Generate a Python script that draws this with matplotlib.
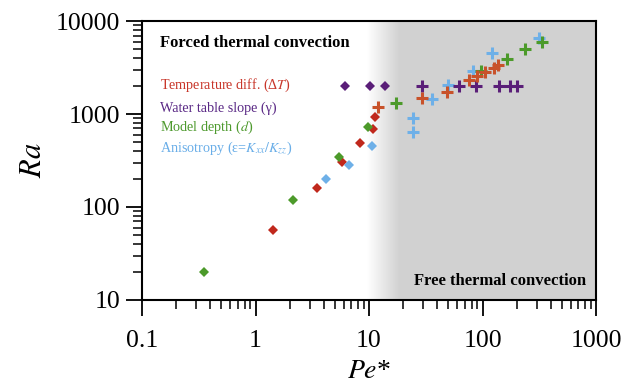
import numpy as np
import matplotlib.pyplot as plt

# Temperature difference (dT)
temp_pe_d = [1.42, 3.48, 5.82, 8.33, 10.8, 11.2]
temp_ra_d = [57, 161, 307, 491, 695, 935]
temp_pe_c = [12.1, 29.1, 48.7, 76, 90, 105, 127, 138]
temp_ra_c = [1190, 1475, 1738, 2321, 2563, 2808, 3100, 3365]

# Water table slope (gamma)
slope_pe_d = [6.2, 10.1, 13.9]
slope_ra_d = [2000, 2000, 2000]
slope_pe_c = [29.1, 61.7, 87.1, 139, 175, 203]
slope_ra_c = [2000, 2000, 2000, 2000, 2000, 2000]

# Model depth (d)
depth_pe_d = [0.35, 2.13, 5.41, 9.73]
depth_ra_d = [20, 119, 347, 729]
depth_pe_c = [17.2, 96.4, 163, 237, 332]
depth_ra_c = [1303, 2923, 3903, 4960, 5900]

# Anisotropy
aniso_pe_d = [4.18, 6.7, 10.6]
aniso_ra_d = [199, 283, 449]
aniso_pe_c = [24.3, 24.3, 36.1, 50, 82, 121, 316]
aniso_ra_c = [899, 645, 1439, 2050, 2923, 4563, 6515]

red_d, red_c = '#c0281c', '#c8522a'
purple = '#5a1e78'
green = '#4c9a2a'
blue = '#6eb0e8'

plt.rcParams['font.family'] = ['Liberation Serif', 'DejaVu Serif']
plt.rcParams['mathtext.fontset'] = 'stix'

fig = plt.figure(figsize=(6.38, 3.84), dpi=100)
ax = fig.add_axes([0.2226, 0.219, 0.7116, 0.726])
ax.set_xscale('log')
ax.set_yscale('log')
ax.set_xlim(0.1, 1000)
ax.set_ylim(10, 10000)

# shaded background with gradient edge
xs = np.linspace(0, 1, 600)
shade = np.clip((xs - 0.495) / (0.565 - 0.495), 0, 1)
gray = 0.823
col = 1 - shade * (1 - gray)
img = np.repeat(np.stack([col, col, col], axis=-1)[None, :, :], 2, axis=0)
ax.imshow(img, extent=[0, 1, 0, 1], transform=ax.transAxes, aspect='auto', zorder=0)

ms_d, ms_c, mew = 5.5, 9, 2.2
ax.plot(temp_pe_d, temp_ra_d, 'D', color=red_d, ms=ms_d, mew=0, zorder=3)
ax.plot(slope_pe_d, slope_ra_d, 'D', color=purple, ms=ms_d, mew=0, zorder=3)
ax.plot(depth_pe_d, depth_ra_d, 'D', color=green, ms=ms_d, mew=0, zorder=3)
ax.plot(aniso_pe_d, aniso_ra_d, 'D', color=blue, ms=ms_d, mew=0, zorder=3)
ax.plot(aniso_pe_c, aniso_ra_c, '+', color=blue, ms=ms_c, mew=mew, zorder=3)
ax.plot(slope_pe_c, slope_ra_c, '+', color=purple, ms=ms_c, mew=mew, zorder=3)
ax.plot(depth_pe_c, depth_ra_c, '+', color=green, ms=ms_c, mew=mew, zorder=3)
ax.plot(temp_pe_c, temp_ra_c, '+', color=red_c, ms=ms_c, mew=mew, zorder=3)

ax.set_xticks([0.1, 1, 10, 100, 1000])
ax.set_xticklabels(['0.1', '1', '10', '100', '1000'])
ax.set_yticks([10, 100, 1000, 10000])
ax.set_yticklabels(['10', '100', '1000', '10000'])
ax.tick_params(which='major', direction='out', length=11.5, width=1.3, labelsize=18.5)
ax.tick_params(which='minor', direction='out', length=6.5, width=1.1)
ax.tick_params(axis='x', which='major', pad=10)
ax.tick_params(axis='y', which='major', pad=4)
for s in ax.spines.values():
    s.set_linewidth(1.5)

ax.set_xlabel('$Pe$*', fontsize=20, labelpad=5)
ax.set_ylabel('$Ra$', fontsize=22, labelpad=6)

ax.text(0.04, 0.922, 'Forced thermal convection', transform=ax.transAxes,
        fontsize=12, fontweight='bold', va='center')
ax.text(0.978, 0.068, 'Free thermal convection', transform=ax.transAxes,
        fontsize=12, fontweight='bold', va='center', ha='right')

leg = [('Temperature diff. (Δ$T$)', '#c8362a', 0.756),
       ('Water table slope (γ)', '#5b2a86', 0.674),
       ('Model depth ($d$)', '#4e9a2e', 0.606),
       ('Anisotropy (ε=$K_{xx}/K_{zz}$)', '#6aaee8', 0.530)]
for txt, c, yy in leg:
    ax.text(0.04, yy, txt, transform=ax.transAxes, fontsize=10.2, color=c, va='baseline')

fig.savefig('out.png', dpi=100)
